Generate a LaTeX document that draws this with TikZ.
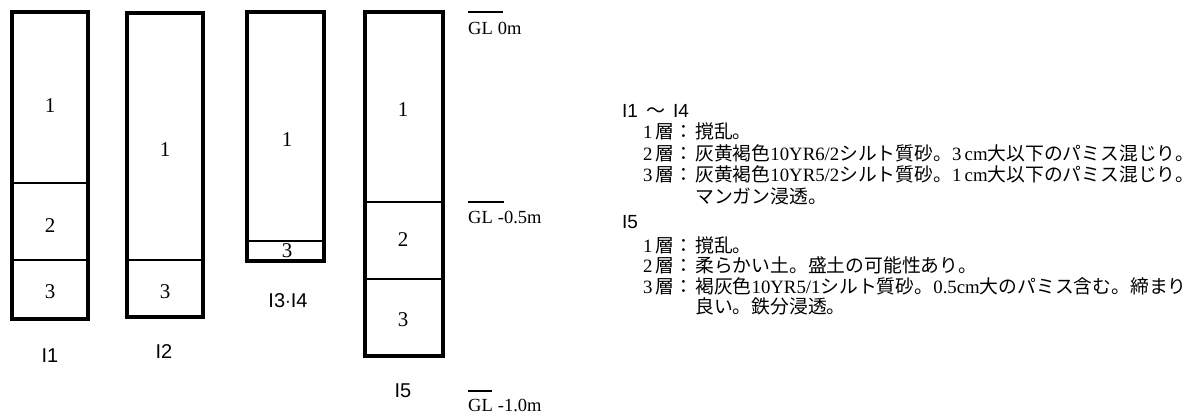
\documentclass[tikz,border=0pt]{standalone}
\usepackage{fontspec}
\setmainfont{Liberation Serif}
\newfontfamily\gsans{Liberation Sans}
\newfontfamily\cjk{Noto Sans CJK JP}
\newcommand{\lt}[1]{{\rmfamily #1}}
\begin{document}
\begin{tikzpicture}[x=1pt,y=-1pt,
  box/.style={draw, line width=3.2pt},
  sep/.style={line width=2pt},
  num/.style={font=\fontsize{21}{21}\selectfont\rmfamily, inner sep=0pt},
  lab/.style={font=\fontsize{20}{20}\selectfont\gsans, inner sep=0pt},
  gl/.style={font=\fontsize{18.5}{18.5}\selectfont\rmfamily, anchor=west, inner sep=0pt},
  glbar/.style={line width=1.3pt},
  jp/.style={font=\fontsize{18.8}{18.8}\selectfont\cjk, anchor=base west, inner sep=0pt},
  head/.style={font=\fontsize{19}{19}\selectfont\gsans, anchor=base west, inner sep=0pt}
]
\useasboundingbox (0,0) rectangle (1201,413);

% ---- I1 ----
\draw[sep] (12,183) -- (88,183);
\draw[sep] (12,260) -- (88,260);
\draw[box] (12,12) rectangle (88,319);
\node[num] (a1) at (50,106) {1};
\node[num] (a2) at (50,226) {2};
\node[num] (a3) at (50,292) {3};
\node[lab] (la) at (50,356) {I1};

% ---- I2 ----
\draw[sep] (127,260) -- (203,260);
\draw[box] (127,13) rectangle (203,317);
\node[num] (b1) at (165,150) {1};
\node[num] (b3) at (165,292) {3};
\node[lab] (lb) at (164,352) {I2};

% ---- I3-I4 ----
\draw[sep] (247,241) -- (324,241);
\draw[box] (247,12) rectangle (324,261);
\node[num] (c1) at (287,140) {1};
\node[num] (c3) at (287,251) {3};
\node[lab] (lc) at (288,301) {I3$\cdot$I4};

% ---- I5 ----
\draw[sep] (365,202) -- (443,202);
\draw[sep] (365,279) -- (443,279);
\draw[box] (365,12) rectangle (443,356);
\node[num] (d1) at (403,110) {1};
\node[num] (d2) at (403,240) {2};
\node[num] (d3) at (403,320) {3};
\node[lab] (ld) at (403,391) {I5};

% ---- GL scale ----
\draw[glbar] (468,12) -- (503,12);
\node[gl] (g0) at (468,28) {GL\hspace{5pt}0m};
\draw[glbar] (468,202) -- (504,202);
\node[gl] (g1) at (468,217) {GL\hspace{5pt}-0.5m};
\draw[glbar] (468,391) -- (492,391);
\node[gl] (g2) at (468,405) {GL\hspace{5pt}-1.0m};

% ---- legend ----
\node[head] (h1) at (622,117) {I1\hspace{8pt}{\cjk ～}\hspace{8pt}I4};
\node[jp] (p11) at (643,138) {\lt{1}\,層：};
\node[jp] (t11) at (695,138) {撹乱。};
\node[jp] (p12) at (643,160) {\lt{2}\,層：};
\node[jp] (t12) at (695,160) {灰黄褐色\lt{10YR6/2}シルト質砂。\lt{3\,cm}大以下のパミス混じり。};
\node[jp] (p13) at (643,181) {\lt{3}\,層：};
\node[jp] (t13) at (695,181) {灰黄褐色\lt{10YR5/2}シルト質砂。\lt{1\,cm}大以下のパミス混じり。};
\node[jp] (t13b) at (695,203) {マンガン浸透。};

\node[head] (h2) at (622,228) {I5};
\node[jp] (p21) at (643,252) {\lt{1}\,層：};
\node[jp] (t21) at (695,252) {撹乱。};
\node[jp] (p22) at (643,272) {\lt{2}\,層：};
\node[jp] (t22) at (695,272) {柔らかい土。盛土の可能性あり。};
\node[jp] (p23) at (643,293) {\lt{3}\,層：};
\node[jp] (t23) at (695,293) {褐灰色\lt{10YR5/1}シルト質砂。\lt{0.5cm}大のパミス含む。締まり};
\node[jp] (t23b) at (695,313) {良い。鉄分浸透。};
\end{tikzpicture}
\end{document}
